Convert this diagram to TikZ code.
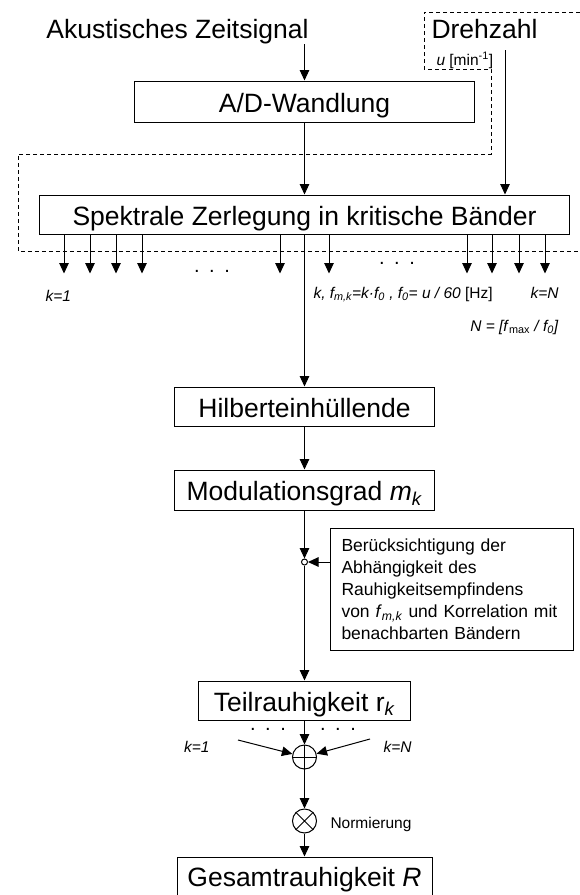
\documentclass[tikz,border=0pt]{standalone}
\usepackage{fontspec}
\setmainfont{Liberation Sans}
\usetikzlibrary{arrows.meta}
\begin{document}
\begin{tikzpicture}[x=1pt,y=-1pt,line width=1pt,
  arr/.style={-{Triangle[length=10.5pt,width=9.5pt]}},
  bigfont/.style={font=\fontsize{26.5}{30}\selectfont},
  smallfont/.style={font=\fontsize{15.5}{18}\selectfont},
  box/.style={draw,line width=1pt,inner sep=0pt,text height=22pt,text depth=1pt,bigfont},
  lbl/.style={inner sep=0pt,bigfont},
  slbl/.style={inner sep=0pt,smallfont},
  dots/.style={inner sep=0pt,font=\fontsize{20}{22}\selectfont,text height=3pt,text depth=0pt},
  dashedline/.style={dash pattern=on 4pt off 3pt,line width=1pt},
  sumnode/.style={circle,draw,line width=1pt,minimum size=24pt,inner sep=0pt}]
\useasboundingbox (0,0) rectangle (580,895);
\newcommand{\threedots}{.\hspace{9.5pt}.\hspace{9.5pt}.}

% top texts
\node[lbl,anchor=base] (aku) at (177.5,38) {Akustisches Zeitsignal};
\node[lbl,anchor=base west] (dreh) at (431,38) {Drehzahl};
\node[slbl,anchor=base west] (u) at (436,65) {\textit{u} [min\textsuperscript{-1}]};

% dashed outline
\draw[dashedline] (580,12) -- (424,12) -- (424,69) -- (491,69) -- (491,154) -- (18,154) -- (18,251) -- (580,251);

% boxes
\node[box,minimum width=340pt,minimum height=41pt] (ad) at (304.5,101.5) {A/D-Wandlung};
\node[box,minimum width=530pt,minimum height=39pt] (spek) at (304.5,214.5) {Spektrale Zerlegung in kritische Bänder};
\node[box,minimum width=260pt,minimum height=39pt] (hil) at (304.5,406.5) {Hilberteinhüllende};
\node[box,minimum width=260pt,minimum height=40pt] (mod) at (304.5,490) {Modulationsgrad \textit{m}\textsubscript{\textit{k}}};
\node[box,minimum width=212pt,minimum height=39pt] (teil) at (304.5,700.5) {Teilrauhigkeit r\textsubscript{\textit{k}}};
\node[box,minimum width=255pt,minimum height=38pt] (ges) at (304.5,876) {Gesamtrauhigkeit \textit{R}};

\node[draw,anchor=north west,minimum width=243pt,minimum height=122pt,text width=221pt,
  inner xsep=11pt,inner ysep=0pt,align=left,font=\fontsize{17.5}{22}\selectfont] (note) at (330,528)
  {Berücksichtigung der\\Abhängigkeit des\\Rauhigkeitsempfindens\\von \textit{f}\textsubscript{\textit{m,k}} und Korrelation mit\\benachbarten Bändern};

% connectors top
\draw[arr] (ad.north |- aku.south) -- (ad.north);
\coordinate (drehstart) at (505,50);
\draw[arr] (drehstart) -- (drehstart |- spek.north);
\draw[arr] (ad.south) -- (spek.north);

% band arrows
\foreach \bx in {64,90,116,142,280,329,467,492,519,545} {
  \coordinate (bandx) at (\bx,0);
  \draw[arr] (spek.south -| bandx) -- ++(0,39);
}
\node[dots,anchor=base] (dl) at (212,272) {\threedots};
\node[dots,anchor=base] (dr) at (397,264) {\threedots};

% labels under bands
\node[slbl,anchor=base west] (k1) at (45,301.5) {\textit{k=1}};
\node[slbl,anchor=base west] (kf) at (313,298) {\textit{k, f\textsubscript{m,k}=k·f\textsubscript{0} , f\textsubscript{0}= u / 60} [Hz]};
\node[slbl,anchor=base west] (kN) at (530,298) {\textit{k=N}};
\node[slbl,anchor=base east] (Nd) at (559,331) {\textit{N = [f}\textsubscript{max}\textit{ / f\textsubscript{0}]}};

% main chain
\draw[arr] (spek.south) -- (hil.north);
\draw[arr] (hil.south) -- (mod.north);
\node[circle,draw,fill=white,line width=1pt,inner sep=0pt,minimum size=6pt] (j) at (304.5,562) {};
\draw[arr] (mod.south) -- (j.north);
\draw[arr] (note.west |- j) -- (j.east);
\draw[arr] (j.south) -- (teil.north);

% summation
\node[sumnode] (plus) at (304.5,757) {};
\draw (plus.north) -- (plus.south) (plus.west) -- (plus.east);
\draw[arr] (teil.south) -- (plus.north);
\node[dots,anchor=base] (dbl) at (268,730) {\threedots};
\node[dots,anchor=base] (dbr) at (338,730) {\threedots};
\coordinate (kl) at (238,740);
\coordinate (kr) at (370,739);
\draw[arr] (kl) -- (plus);
\draw[arr] (kr) -- (plus);
\node[slbl,anchor=base east] (k1b) at (210,752) {\textit{k=1}};
\node[slbl,anchor=base west] (kNb) at (383,752) {\textit{k=N}};

% normalisation
\node[sumnode] (otimes) at (304.5,821) {};
\draw (otimes.north west) -- (otimes.south east) (otimes.north east) -- (otimes.south west);
\draw[arr] (plus.south) -- (otimes.north);
\node[slbl,anchor=base west] (norm) at (330,828) {Normierung};
\draw[arr] (otimes.south) -- (ges.north);
\end{tikzpicture}
\end{document}
